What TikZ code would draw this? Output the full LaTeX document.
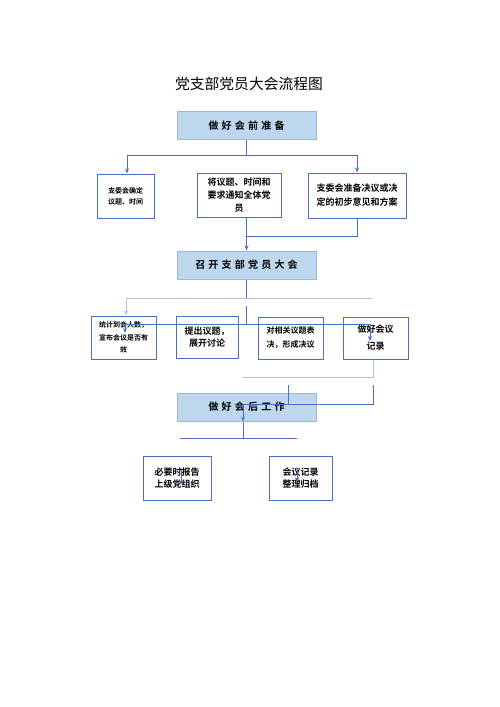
\documentclass[tikz,border=0pt]{standalone}
\usepackage{fontspec}
\setmainfont{Noto Sans CJK SC}[BoldFont={* Bold}]
\newfontfamily\widecjk{Noto Sans CJK SC}[LetterSpace=32, BoldFont={* Bold}]
\usetikzlibrary{arrows.meta,positioning,calc}
\definecolor{headfill}{HTML}{BDD7EE}
\definecolor{headline}{HTML}{9AB6DE}
\definecolor{boxline}{HTML}{4A72C4}
\definecolor{flowline}{HTML}{4A72C4}
\definecolor{faintline}{HTML}{AFC2E2}

\begin{document}
\begin{tikzpicture}[
    x=1pt, y=-1pt, >={Stealth[length=5pt,width=4pt]},
    headbox/.style={rectangle, draw=headline, line width=1pt, fill=headfill, minimum width=139, minimum height=28, inner sep=0pt, font=\widecjk\bfseries\fontsize{10}{12}\selectfont},
    stepbox/.style={rectangle, draw=boxline, line width=1pt, fill=white, align=center, inner sep=0pt, font=\bfseries},
    flow/.style={draw=flowline, line width=1pt},
    faint/.style={draw=faintline, line width=0.9pt}
]
    \useasboundingbox[fill=white] (0,0) rectangle (500,707);

    % Title
    \node[font=\fontsize{14.8}{16}\selectfont] (title) at (249,84) {党支部党员大会流程图};

    % Before the meeting
    \node[headbox] (prep) at (246.5,125.5) {做好会前准备};
    \node[stepbox, minimum width=57, minimum height=44, font=\bfseries\fontsize{7}{11}\selectfont] (confirm) at (125.5,196) {支委会确定\\议题、时间};
    \node[stepbox, minimum width=84, minimum height=44, font=\bfseries\fontsize{9}{13}\selectfont] (notify) at (239,195) {将议题、时间和\\要求通知全体党\\员};
    \node[stepbox, minimum width=98, minimum height=45, font=\bfseries\fontsize{9}{14}\selectfont] (plan) at (357,195.5) {支委会准备决议或决\\定的初步意见和方案};

    \coordinate (t1) at (127,155);
    \coordinate (t2) at (357,155);
    \draw[flow] (prep.south) -- (prep.south |- t1);
    \draw[flow] (t1) -- (t2);
    \draw[flow,->] (t1) -- (t1 |- confirm.north);
    \draw[flow,->] (t2) -- (t2 |- plan.north);

    % Meeting
    \node[headbox] (convene) at (246.5,265) {召开支部党员大会};
    \coordinate (m1) at (246.5,236);
    \draw[flow,->] (convene.north |- notify.south) -- (convene.north);
    \draw[flow] (plan.south) |- (m1);

    \node[stepbox, minimum width=65, minimum height=43, font=\bfseries\fontsize{7}{12.5}\selectfont] (count) at (123.5,337.5) {统计到会人数，\\宣布会议是否有\\效};
    \node[stepbox, minimum width=62, minimum height=42, font=\bfseries\fontsize{9}{12}\selectfont] (discuss) at (207,337) {提出议题，\\展开讨论};
    \node[stepbox, minimum width=65, minimum height=42, font=\bfseries\fontsize{8}{14}\selectfont] (vote) at (290.5,338) {对相关议题表\\决，形成决议};
    \node[stepbox, minimum width=65, minimum height=42, font=\bfseries\fontsize{9}{17}\selectfont] (record) at (375.5,338) {做好会议\\记录};

    \coordinate (f1) at (126,298);
    \coordinate (f2) at (372,298);
    \draw[flow] (convene.south) -- (convene.south |- f1);
    \draw[faint] (f1) -- (f2);
    \draw[faint,->] (f1) -- (f1 |- count.north);

    \coordinate (d0) at (246,306);
    \coordinate (d1) at (125,324);
    \coordinate (d2) at (370,324);
    \draw[flow] (d0) -- (d0 |- d1);
    \draw[flow] (d1) -- (d2);
    \draw[flow,->] (d1) -- ++(0,9);
    \draw[flow,->] (d2) -- ++(0,17);

    \coordinate (g1) at (243,377);
    \draw[faint] (record.south -| 373,0) |- (g1);

    % After the meeting
    \node[headbox] (after) at (246.5,407) {做好会后工作};
    \coordinate (h0) at (288,385);
    \coordinate (h1) at (373,385);
    \coordinate (h2) at (243,404);
    \draw[flow] (h0) -- (h0 |- h2);
    \draw[flow] (h1) |- (h2);
    \draw[flow,->] (h2) -- (h2 |- after.south);

    \coordinate (b1) at (180,438);
    \coordinate (b2) at (297,438);
    \draw[flow] (after.south -| h2) -- (h2 |- b1);
    \draw[flow] (b1) -- (b2);

    \node[stepbox, minimum width=68, minimum height=44, font=\bfseries\fontsize{9}{12}\selectfont] (report) at (177,478) {必要时报告\\上级党组织};
    \node[stepbox, minimum width=63, minimum height=44, font=\bfseries\fontsize{9}{12}\selectfont] (archive) at (300.5,478) {会议记录\\整理归档};

    \coordinate (r1) at (181,468);
    \coordinate (r2) at (297,470);
    \draw[flow,->] (r1) -- ++(0,17);
    \draw[flow,->] (r2) -- ++(0,12);
\end{tikzpicture}
\end{document}
